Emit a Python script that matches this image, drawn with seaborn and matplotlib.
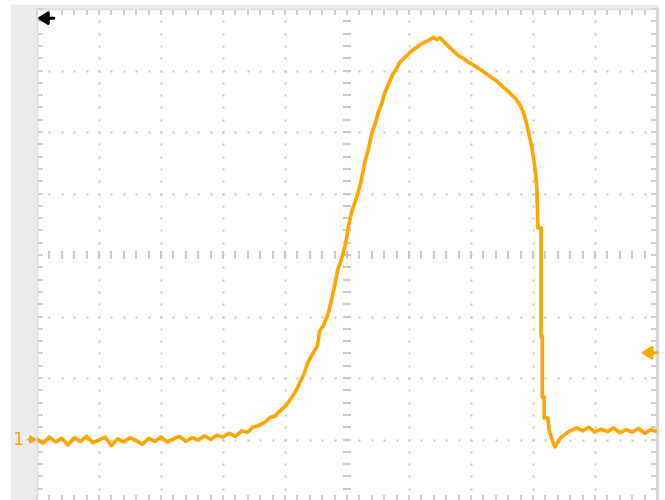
import numpy as np
import pandas as pd
import matplotlib
matplotlib.use('Agg')
import matplotlib.pyplot as plt
import seaborn as sns
from matplotlib.patches import Rectangle

# 오실로스코프 화면: 가로 10 div, 세로 8 div (중심 0)
base_t = [0.0, 0.1, 0.2, 0.3, 0.4, 0.5, 0.6, 0.7, 0.8, 0.9,
          1.0, 1.1, 1.2, 1.3, 1.4, 1.5, 1.6, 1.7, 1.8, 1.9,
          2.0, 2.1, 2.2, 2.3, 2.4, 2.5, 2.6, 2.7, 2.8, 2.9, 3.0]
base_v = [-3.00, -3.06, -2.96, -3.04, -2.98, -3.09, -2.97, -3.03, -2.95, -3.05,
          -3.01, -2.96, -3.10, -2.99, -3.04, -2.97, -3.02, -3.08, -2.98, -3.03,
          -2.96, -3.04, -2.99, -2.95, -3.03, -2.97, -3.01, -2.94, -3.00, -2.93, -2.96]

pulse_t = [3.10, 3.20, 3.30, 3.40, 3.48, 3.56, 3.64, 3.70, 3.76, 3.84, 3.90, 3.97,
           4.04, 4.11, 4.18, 4.24, 4.30, 4.37, 4.44, 4.52, 4.56, 4.62, 4.68, 4.72,
           4.76, 4.81, 4.85, 4.90, 4.94, 4.98, 5.03, 5.08, 5.13, 5.18, 5.23, 5.29,
           5.35, 5.40, 5.45, 5.50, 5.56, 5.61, 5.67, 5.73, 5.79, 5.85, 5.92, 6.02,
           6.10, 6.21, 6.30, 6.39, 6.45, 6.50, 6.58, 6.65, 6.71, 6.80, 6.87, 6.95,
           7.02, 7.10, 7.20, 7.31, 7.40, 7.52, 7.60, 7.71, 7.78, 7.84, 7.88, 7.92,
           7.98, 8.03, 8.06, 8.08, 8.13, 8.13, 8.15, 8.15, 8.18, 8.18, 8.24, 8.26,
           8.31, 8.35, 8.40, 8.44, 8.50, 8.55, 8.62, 8.71]
pulse_v = [-2.90, -2.95, -2.86, -2.88, -2.80, -2.78, -2.74, -2.70, -2.64, -2.62, -2.55, -2.49,
           -2.42, -2.31, -2.20, -2.07, -1.95, -1.74, -1.62, -1.48, -1.24, -1.14, -1.00, -0.86,
           -0.68, -0.46, -0.24, -0.10, 0.04, 0.20, 0.50, 0.72, 0.86, 1.02, 1.22, 1.52,
           1.74, 1.98, 2.12, 2.31, 2.46, 2.64, 2.78, 2.92, 3.02, 3.13, 3.20, 3.30,
           3.36, 3.44, 3.48, 3.54, 3.50, 3.53, 3.45, 3.38, 3.32, 3.24, 3.20, 3.14,
           3.10, 3.05, 2.98, 2.90, 2.84, 2.73, 2.66, 2.55, 2.46, 2.33, 2.20, 2.03,
           1.76, 1.43, 1.11, 0.44, 0.44, -1.33, -1.33, -2.31, -2.31, -2.65, -2.65, -2.85,
           -3.01, -3.12, -3.04, -2.98, -2.93, -2.89, -2.85, -2.81]

tail_t = [8.80, 8.90, 9.00, 9.10, 9.20, 9.30, 9.40, 9.50, 9.60, 9.70, 9.80, 9.90, 10.00]
tail_v = [-2.86, -2.80, -2.88, -2.83, -2.87, -2.81, -2.89, -2.84, -2.88, -2.82, -2.90, -2.84, -2.87]

ground_level = -3.0      # 채널 1 기준선
trig_level = -1.59       # 트리거 레벨 (오른쪽 화살표)
trig_pos = 3.85          # 왼쪽 위 검은 화살표

trace = pd.DataFrame({'t': base_t + pulse_t + tail_t,
                      'v': base_v + pulse_v + tail_v})

sns.set_style('white')
plt.rcParams['font.family'] = ['DejaVu Sans']

fig = plt.figure(figsize=(6.65, 5), dpi=100)
ax = fig.add_axes([37/665, -1/500, 620/665, 492/500])

# 스코프 틀 (회색 띠) - 축보다 뒤에 그림
fig.patches.append(Rectangle((11/665, 0), 25/665, 495/500, transform=fig.transFigure,
                             color='#ececec', zorder=-1))
fig.patches.append(Rectangle((11/665, 1 - 9/500), 647/665, 4/500, transform=fig.transFigure,
                             color='#ececec', zorder=-1))

ax.set_xlim(0, 10)
ax.set_ylim(-4, 4)

# 점선 격자
minor_x = np.arange(0, 10.001, 0.2)
minor_y = np.arange(-4, 4.001, 0.2)
gc = '#c4c4c4'
for gx in [1, 2, 3, 4, 6, 7, 8, 9]:
    ax.plot([gx] * len(minor_y), minor_y, linestyle='none', marker='s', ms=1.4, mew=0, color=gc)
for gy in [-3, -2, -1, 1, 2, 3]:
    ax.plot(minor_x, [gy] * len(minor_x), linestyle='none', marker='s', ms=1.4, mew=0, color=gc)
# 중심축 눈금
ax.plot(minor_x, [0] * len(minor_x), linestyle='none', marker='|', ms=6, mew=1.3, color=gc)
ax.plot([5] * len(minor_y), minor_y, linestyle='none', marker='_', ms=6, mew=1.3, color=gc)

ax.set_xticks(np.arange(0, 10.001, 1))
ax.set_yticks(np.arange(-4, 4.001, 1))
ax.set_xticks(minor_x, minor=True)
ax.set_yticks(minor_y, minor=True)
ax.tick_params(which='both', direction='in', length=4, width=1.2, color=gc,
               top=True, right=True, bottom=True, left=True,
               labelbottom=False, labelleft=False)
for side, sp in ax.spines.items():
    sp.set_color('#dcdcdc')
    sp.set_linewidth(1)
ax.spines['right'].set_linewidth(2.2)
ax.spines['right'].set_color('#d6d6d6')

# 파형
sns.lineplot(data=trace, x='t', y='v', ax=ax, color='#ffa500', linewidth=2.6,
             estimator=None, sort=False, zorder=5)
ax.set_xlabel('')
ax.set_ylabel('')

# 마커들
ax.annotate('', xy=(0.0, trig_pos), xytext=(0.27, trig_pos), annotation_clip=False,
            arrowprops=dict(arrowstyle='-|>,head_length=0.6,head_width=0.38', color='black', lw=2.2,
                            shrinkA=0, shrinkB=0))
ax.annotate('', xy=(9.74, trig_level), xytext=(10.0, trig_level), annotation_clip=False,
            arrowprops=dict(arrowstyle='-|>,head_length=0.6,head_width=0.38', color='#ffa500', lw=2.2,
                            shrinkA=0, shrinkB=0))
ax.annotate('', xy=(0.0, ground_level), xytext=(-0.15, ground_level), annotation_clip=False,
            arrowprops=dict(arrowstyle='-|>,head_length=0.35,head_width=0.22', color='#ffa500', lw=1.5,
                            shrinkA=0, shrinkB=0))
ax.text(-0.30, ground_level, '1', color='#ffa500', fontsize=13, ha='center', va='center',
        clip_on=False)

plt.savefig('out.png', dpi=100)
